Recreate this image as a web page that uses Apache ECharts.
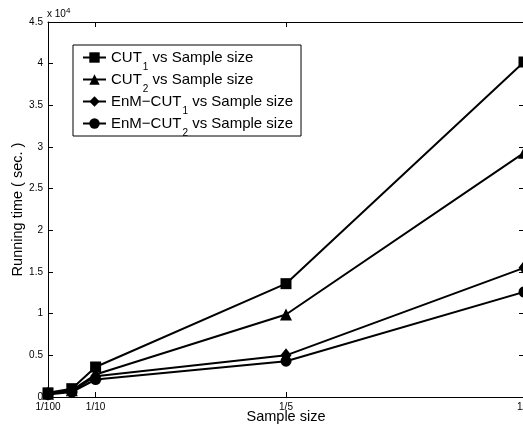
<!DOCTYPE html>
<html>
<head>
<meta charset="utf-8">
<script src="https://cdn.jsdelivr.net/npm/echarts@6/dist/echarts.min.js"></script>
<style>html,body{margin:0;padding:0;background:#fff;}#chart{width:523px;height:427px;}</style>
</head>
<body>
<div id="chart"></div>
<script>
// x positions of the samples on the axis (index-like scale)
const xPositions = [0, 1, 2, 10, 20];
// tick values and labels on the x axis
const xTickValues = [0, 2, 10, 20];
const xTickLabels = ['1/100', '1/10', '1/5', '1/2'];
// running times (seconds)
const cut1 = [500, 1000, 3600, 13600, 40200];
const cut2 = [400, 800, 2700, 9900, 29300];
const enm1 = [400, 700, 2500, 5000, 15500];
const enm2 = [300, 600, 2100, 4300, 12600];
// series labels: base + subscript
const seriesBase = ['CUT', 'CUT', 'EnM\u2212CUT', 'EnM\u2212CUT'];
const seriesSub = ['1', '2', '1', '2'];
const seriesTail = ' vs Sample size';
const yTickValues = [0, 5000, 10000, 15000, 20000, 25000, 30000, 35000, 40000, 45000];
const yTickLabels = ['0', '0.5', '1', '1.5', '2', '2.5', '3', '3.5', '4', '4.5'];

const FONT = 'Liberation Sans, Arial, Helvetica, sans-serif';
const names = seriesBase.map((b, i) => b + seriesSub[i] + seriesTail);
const symbols = ['rect', 'triangle', 'diamond', 'circle'];
const sizes = [11, 12, [11, 14], 11];
const values = [cut1, cut2, enm1, enm2];

const chart = echarts.init(document.getElementById('chart'), null, {renderer: 'canvas'});
const series = values.map((v, i) => ({
  name: names[i],
  type: 'line',
  data: xPositions.map((x, j) => [x, v[j]]),
  symbol: symbols[i],
  symbolSize: sizes[i],
  showAllSymbol: true,
  clip: false,
  color: '#000',
  lineStyle: {color: '#000', width: 2},
  itemStyle: {color: '#000'},
  emphasis: {disabled: true},
  animation: false,
  z: 3
}));

const xLabelMap = {};
xTickValues.forEach((v, i) => { xLabelMap[v] = xTickLabels[i]; });
const yLabelMap = {};
yTickValues.forEach((v, i) => { yLabelMap[v] = yTickLabels[i]; });

const axisCommon = {
  axisLine: {show: true, onZero: false, lineStyle: {color: '#000', width: 1}},
  splitLine: {show: false}
};

chart.setOption({
  backgroundColor: '#fff',
  animation: false,
  grid: {left: 48, top: 22, right: -1, bottom: 30, containLabel: false, outerBoundsMode: 'none'},
  xAxis: [{
    type: 'value', min: 0, max: 20, position: 'bottom',
    ...axisCommon,
    axisTick: {show: true, inside: true, length: 5, customValues: xTickValues, lineStyle: {color: '#000'}},
    axisLabel: {show: true, customValues: xTickValues, margin: 5, fontFamily: FONT, fontSize: 10, color: '#000',
      formatter: v => xLabelMap[v] || ''},
    name: 'Sample size', nameLocation: 'middle', nameGap: 12, nameMoveOverlap: false,
    nameTextStyle: {fontFamily: FONT, fontSize: 14.5, color: '#000'}
  }, {
    type: 'value', min: 0, max: 20, position: 'top',
    ...axisCommon,
    axisTick: {show: true, inside: true, length: 5, customValues: xTickValues, lineStyle: {color: '#000'}},
    axisLabel: {show: false}
  }],
  yAxis: [{
    type: 'value', min: 0, max: 45000, interval: 5000, position: 'left',
    ...axisCommon,
    axisTick: {show: true, inside: true, length: 5, lineStyle: {color: '#000'}},
    axisLabel: {show: true, margin: 5, fontFamily: FONT, fontSize: 10, color: '#000',
      formatter: v => yLabelMap[v] !== undefined ? yLabelMap[v] : ''},
    name: 'Running time ( sec. )', nameLocation: 'middle', nameGap: 23, nameRotate: 90, nameMoveOverlap: false,
    nameTextStyle: {fontFamily: FONT, fontSize: 14.5, color: '#000'}
  }, {
    type: 'value', min: 0, max: 45000, interval: 5000, position: 'right',
    ...axisCommon,
    axisTick: {show: true, inside: true, length: 5, lineStyle: {color: '#000'}},
    axisLabel: {show: false}
  }],
  legend: {
    show: true, orient: 'vertical', left: 73, top: 45,
    data: names,
    backgroundColor: '#fff',
    borderColor: '#000', borderWidth: 1, borderRadius: 0,
    padding: [-2, 8, -2, 9], itemGap: -7, itemWidth: 23, itemHeight: 13,
    selectedMode: false,
    textStyle: {fontFamily: FONT, fontSize: 15, color: '#000', lineHeight: 16,
      rich: {sub: {fontFamily: FONT, fontSize: 10, lineHeight: 12, padding: [19, 0, 0, 1]}}},
    formatter: name => {
      const i = names.indexOf(name);
      return seriesBase[i] + '{sub|' + seriesSub[i] + '}' + seriesTail;
    }
  },
  graphic: [{
    type: 'text', left: 47, top: 7,
    style: {text: 'x 10{sup|4}', fill: '#000', font: '10px ' + FONT,
      rich: {sup: {fontSize: 8, fontFamily: FONT, padding: [0, 0, 7, 0], lineHeight: 8}}}
  }],
  series: series
});
</script>
</body>
</html>
